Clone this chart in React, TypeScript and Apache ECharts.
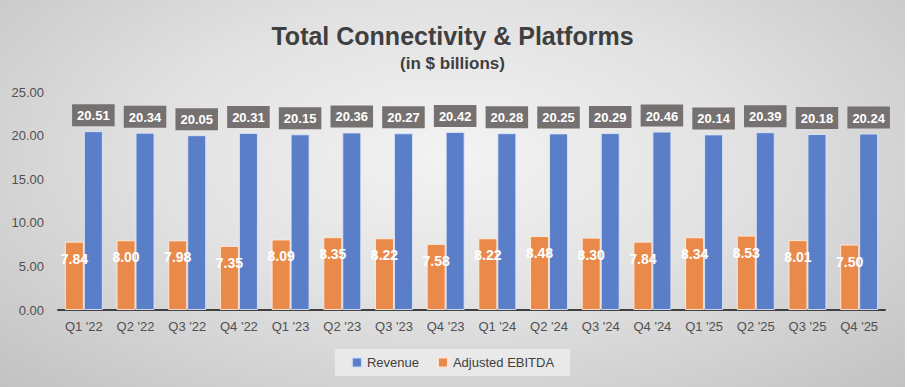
import React, { useEffect, useRef } from "react";
import * as echarts from "echarts";

const categories = ["Q1 '22", "Q2 '22", "Q3 '22", "Q4 '22", "Q1 '23", "Q2 '23", "Q3 '23", "Q4 '23", "Q1 '24", "Q2 '24", "Q3 '24", "Q4 '24", "Q1 '25", "Q2 '25", "Q3 '25", "Q4 '25"];
const revenue = [20.51, 20.34, 20.05, 20.31, 20.15, 20.36, 20.27, 20.42, 20.28, 20.25, 20.29, 20.46, 20.14, 20.39, 20.18, 20.24];
const ebitda = [7.84, 8.0, 7.98, 7.35, 8.09, 8.35, 8.22, 7.58, 8.22, 8.48, 8.3, 7.84, 8.34, 8.53, 8.01, 7.5];
const yTicks = { min: 0, max: 25, interval: 5 };

const FONT = "Liberation Sans";

export default function App() {
  const ref = useRef<HTMLDivElement>(null);
  useEffect(() => {
    if (!ref.current) return;
    const chart = echarts.init(ref.current, null, { renderer: "svg" });
    chart.setOption({
      animation: false,
      backgroundColor: "transparent",
      textStyle: { fontFamily: FONT },
      title: [
        {
          text: "Total Connectivity & Platforms",
          left: "center",
          top: 18,
          textStyle: { fontSize: 25, fontWeight: "bold", color: "#3f3f3f", fontFamily: FONT },
        },
        {
          text: "(in $ billions)",
          left: "center",
          top: 50,
          textStyle: { fontSize: 17, fontWeight: "bold", color: "#3f3f3f", fontFamily: FONT },
        },
      ],
      legend: {
        data: ["Revenue", "Adjusted EBITDA"],
        left: "center",
        top: 349,
        backgroundColor: "rgba(235,235,235,0.9)",
        padding: [7, 16],
        itemWidth: 10,
        itemHeight: 10,
        itemGap: 18,
        icon: "rect",
        textStyle: { fontSize: 13, color: "#404040", fontFamily: FONT },
      },
      grid: { left: 58, right: 20, top: 92, bottom: 77 },
      xAxis: {
        type: "category",
        data: categories,
        axisLine: { lineStyle: { color: "#404040", width: 2 } },
        axisTick: { show: false },
        axisLabel: { fontSize: 13, color: "#505050", margin: 10, fontFamily: FONT },
      },
      yAxis: {
        type: "value",
        min: yTicks.min,
        max: yTicks.max,
        interval: yTicks.interval,
        splitLine: { show: false },
        axisLine: { show: false },
        axisTick: { show: false },
        axisLabel: {
          fontSize: 13,
          color: "#505050",
          margin: 14,
          fontFamily: FONT,
          formatter: (v: number) => v.toFixed(2),
        },
      },
      series: [
        {
          name: "Adjusted EBITDA",
          type: "bar",
          data: ebitda,
          barWidth: 19,
          barGap: "0%",
          itemStyle: { color: "#E98A4A", borderColor: "rgba(255,235,220,0.9)", borderWidth: 1 },
          label: {
            show: true,
            position: "insideTop",
            distance: 10,
            color: "#ffffff",
            fontWeight: "bold",
            fontSize: 14,
            fontFamily: FONT,
            formatter: (p: any) => p.value.toFixed(2),
          },
        },
        {
          name: "Revenue",
          type: "bar",
          data: revenue,
          barWidth: 19,
          barGap: "0%",
          itemStyle: { color: "#5A7FC8", borderColor: "rgba(220,230,250,0.9)", borderWidth: 1 },
          label: {
            show: true,
            position: "top",
            distance: 5,
            color: "#ffffff",
            fontWeight: "bold",
            fontSize: 13,
            fontFamily: FONT,
            backgroundColor: "#767171",
            padding: [5, 5, 4, 5],
            formatter: (p: any) => p.value.toFixed(2),
          },
        },
      ],
    });
    return () => chart.dispose();
  }, []);
  return (
    <div style={{ position: "fixed", left: 0, top: 0, width: 907, height: 387, background: "#ffffff" }}>
      <div
        ref={ref}
        style={{
          width: 905,
          height: 387,
          background: "radial-gradient(ellipse at 50% 40%, #f3f3f3 0%, #e2e2e2 45%, #c2c2c2 100%)",
        }}
      />
    </div>
  );
}
